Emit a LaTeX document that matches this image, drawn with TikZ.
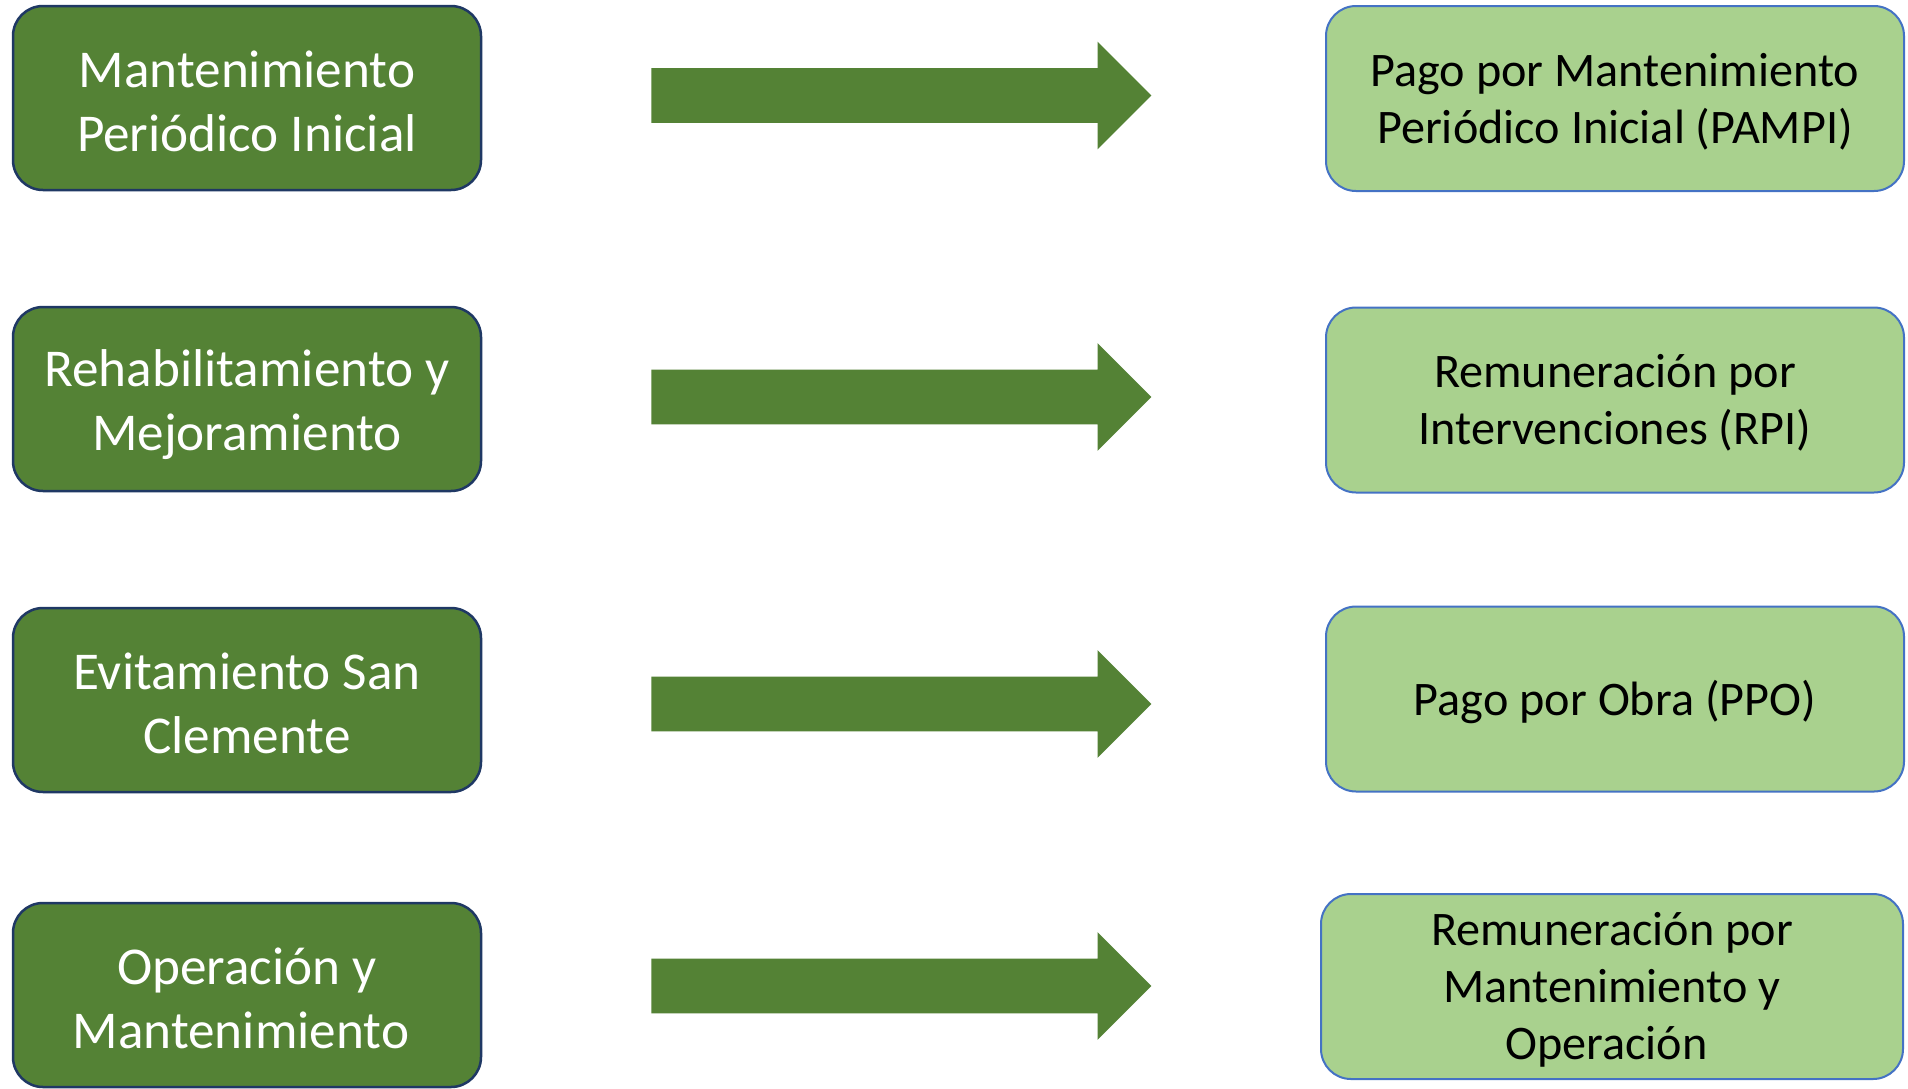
\documentclass[tikz,border=0pt]{standalone}
\usepackage{fontspec}
\setmainfont{Carlito}
\usetikzlibrary{shapes.arrows}
\definecolor{dgreen}{HTML}{548235}
\definecolor{lgreen}{HTML}{A9D18E}
\definecolor{navyb}{HTML}{1F3864}
\definecolor{bblue}{HTML}{4472C4}
\newcommand\lstrut{\rule[-0.1em]{0pt}{1em}}
\newcommand\rstrut{\rule[-0.16em]{0pt}{1em}}
\begin{document}
\begin{tikzpicture}[x=0.5pt,y=-0.5pt,
  srcbox/.style={draw=navyb, line width=1.25pt, fill=dgreen, rounded corners=15pt,
    minimum width=234pt, minimum height=92pt, inner sep=0pt, align=center,
    text=white, font=\fontsize{26.6}{32}\selectfont},
  dstbox/.style={draw=bblue, line width=1pt, fill=lgreen, rounded corners=15pt,
    minimum width=289pt, minimum height=92.5pt, inner sep=0pt, align=center,
    text=black, font=\fontsize{24.1}{28.5}\selectfont},
  blockarrow/.style={single arrow, fill=dgreen, draw=none, minimum height=250pt,
    inner sep=13.5pt, single arrow head extend=13.25pt, single arrow tip angle=90,
    anchor=tip}]
\useasboundingbox[fill=white] (0,0) rectangle (1908,1088);

\node[srcbox] (s1) at (247,98) {\lstrut Mantenimiento\\\lstrut Periódico Inicial};
\node[srcbox] (s2) at (247,399) {\lstrut Rehabilitamiento y\\\lstrut Mejoramiento};
\node[srcbox] (s3) at (247,700) {\lstrut Evitamiento San\\\lstrut Clemente};
\node[srcbox] (s4) at (247,995) {\lstrut Operación y\\\lstrut Mantenimiento\kern0.226em};

\node[blockarrow] (a1) at (1152,95.5) {};
\node[blockarrow] (a2) at (1152,397) {};
\node[blockarrow] (a3) at (1152,704) {};
\node[blockarrow] (a4) at (1152,986) {};

\node[dstbox] (d1) at (1615,98.5) {\rstrut Pago por Mantenimiento\\\rstrut Periódico Inicial (PAMPI)};
\node[dstbox] (d2) at (1615,400) {\rstrut Remuneración por\\\rstrut Intervenciones (RPI)};
\node[dstbox] (d3) at (1615,699) {\rstrut Pago por Obra (PPO)};
\node[dstbox, minimum width=291pt] (d4) at (1612,986.5) {\rstrut Remuneración por\\\rstrut Mantenimiento y\\\rstrut Operación\kern0.226em};
\end{tikzpicture}
\end{document}
